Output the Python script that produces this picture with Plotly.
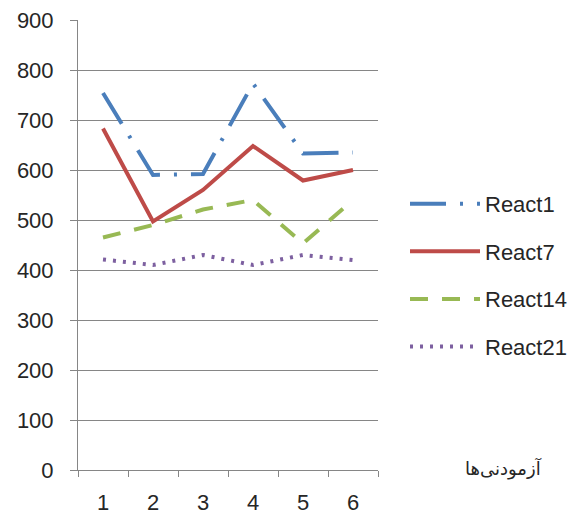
import plotly.graph_objects as go

categories = ["1", "2", "3", "4", "5", "6"]
react1 = [754, 590, 592, 773, 633, 635]
react7 = [683, 497, 560, 648, 579, 600]
react14 = [465, 490, 521, 540, 453, 540]
react21 = [421, 410, 430, 410, 430, 420]
y_ticks = [0, 100, 200, 300, 400, 500, 600, 700, 800, 900]
x_label = "آزمودنی‌ها"

series = [
    ("React1", react1, "#4A7EBB", "36px,14px,3px,14px"),
    ("React7", react7, "#BE4B48", "solid"),
    ("React14", react14, "#98B954", "18px,14px"),
    ("React21", react21, "#7D60A0", "3px,7px"),
]

fig = go.Figure()
for name, vals, color, dash in series:
    fig.add_trace(go.Scatter(
        x=categories, y=vals, name=name, mode="lines",
        line=dict(color=color, width=4, dash=dash),
        legendgroup=name,
    ))

# page body adds an 8px offset, so the figure is 8px smaller in each direction
font_family = "Liberation Sans, Arial, sans-serif"
fig.update_layout(
    width=571, height=507,
    margin=dict(l=70, r=201, t=12, b=45, autoexpand=False),
    paper_bgcolor="white", plot_bgcolor="white",
    font=dict(family=font_family, size=22, color="#262626"),
    showlegend=True,
    legend=dict(x=1.09, y=0.638, xanchor="left", yanchor="top",
                font=dict(size=22, color="#262626"),
                itemwidth=70, tracegroupgap=16, bgcolor="rgba(0,0,0,0)"),
    xaxis=dict(type="category", tickson="boundaries", ticks="outside", ticklen=6,
               tickcolor="#868686", showline=True, linecolor="#868686", linewidth=1,
               showgrid=False, range=[-0.5, 5.5], fixedrange=True,
               ticklabelstandoff=13, automargin=False, ticklabeloverflow="allow"),
    yaxis=dict(range=[0, 900], tickvals=y_ticks, ticks="outside", ticklen=7,
               tickcolor="#868686", showline=True, linecolor="#868686", linewidth=1,
               showgrid=True, gridcolor="#868686", gridwidth=1, zeroline=False,
               ticklabelstandoff=12, automargin=False, ticklabeloverflow="allow"),
    annotations=[dict(text=x_label, xref="paper", yref="paper", x=1.417, y=0.004,
                      xanchor="center", yanchor="middle", showarrow=False,
                      font=dict(size=18, family="DejaVu Sans, Noto Sans, sans-serif", color="#262626"))],
)

fig.write_html("out.html")
